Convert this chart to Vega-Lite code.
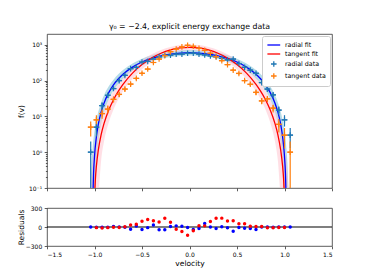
{
 "$schema": "https://vega.github.io/schema/vega-lite/v6.json",
 "padding": {"left": 16, "top": 22, "right": 5, "bottom": 3},
 "config": {
  "font": "DejaVu Sans",
  "view": {"stroke": "#333", "strokeWidth": 0.8},
  "axis": {"domain": false, "grid": false, "tickColor": "#333", "tickSize": 2.8, "tickWidth": 0.8, "labelFontSize": 6, "labelColor": "#000", "titleFontSize": 7.5, "titleFontWeight": "normal", "titleColor": "#000", "labelPadding": 2.5, "labelOverlap": false}
 },
 "spacing": 12,
 "resolve": {"scale": {"color": "independent"}},
 "datasets": {
  "fits": [
   {"s":"radial fit","v":-1.02,"f":0.03},{"s":"radial fit","v":-1.01,"f":0.25},{"s":"radial fit","v":-1.0,"f":0.76},{"s":"radial fit","v":-0.98,"f":2.7},{"s":"radial fit","v":-0.96,"f":5.95},{"s":"radial fit","v":-0.93,"f":13.3},{"s":"radial fit","v":-0.9,"f":23.4},{"s":"radial fit","v":-0.85,"f":46},{"s":"radial fit","v":-0.8,"f":76},{"s":"radial fit","v":-0.75,"f":111},{"s":"radial fit","v":-0.7,"f":151},{"s":"radial fit","v":-0.6,"f":238},{"s":"radial fit","v":-0.5,"f":330},{"s":"radial fit","v":-0.4,"f":417},{"s":"radial fit","v":-0.3,"f":493},{"s":"radial fit","v":-0.2,"f":551},{"s":"radial fit","v":-0.1,"f":587},{"s":"radial fit","v":0,"f":600},{"s":"radial fit","v":0.1,"f":587},{"s":"radial fit","v":0.2,"f":551},{"s":"radial fit","v":0.3,"f":493},{"s":"radial fit","v":0.4,"f":417},{"s":"radial fit","v":0.5,"f":330},{"s":"radial fit","v":0.6,"f":238},{"s":"radial fit","v":0.7,"f":151},{"s":"radial fit","v":0.75,"f":111},{"s":"radial fit","v":0.8,"f":76},{"s":"radial fit","v":0.85,"f":46},{"s":"radial fit","v":0.9,"f":23.4},{"s":"radial fit","v":0.93,"f":13.3},{"s":"radial fit","v":0.96,"f":5.95},{"s":"radial fit","v":0.98,"f":2.7},{"s":"radial fit","v":1.0,"f":0.76},{"s":"radial fit","v":1.01,"f":0.25},{"s":"radial fit","v":1.02,"f":0.03},
   {"s":"tangent fit","v":-1.01,"f":0.02},{"s":"tangent fit","v":-1.0,"f":0.055},{"s":"tangent fit","v":-0.99,"f":0.19},{"s":"tangent fit","v":-0.98,"f":0.41},{"s":"tangent fit","v":-0.96,"f":1.14},{"s":"tangent fit","v":-0.93,"f":3.1},{"s":"tangent fit","v":-0.9,"f":6.3},{"s":"tangent fit","v":-0.85,"f":15.1},{"s":"tangent fit","v":-0.8,"f":29.3},{"s":"tangent fit","v":-0.75,"f":50},{"s":"tangent fit","v":-0.7,"f":78.6},{"s":"tangent fit","v":-0.6,"f":162},{"s":"tangent fit","v":-0.5,"f":280},{"s":"tangent fit","v":-0.4,"f":425},{"s":"tangent fit","v":-0.3,"f":580},{"s":"tangent fit","v":-0.2,"f":718},{"s":"tangent fit","v":-0.1,"f":815},{"s":"tangent fit","v":0,"f":850},{"s":"tangent fit","v":0.1,"f":815},{"s":"tangent fit","v":0.2,"f":718},{"s":"tangent fit","v":0.3,"f":580},{"s":"tangent fit","v":0.4,"f":425},{"s":"tangent fit","v":0.5,"f":280},{"s":"tangent fit","v":0.6,"f":162},{"s":"tangent fit","v":0.7,"f":78.6},{"s":"tangent fit","v":0.75,"f":50},{"s":"tangent fit","v":0.8,"f":29.3},{"s":"tangent fit","v":0.85,"f":15.1},{"s":"tangent fit","v":0.9,"f":6.3},{"s":"tangent fit","v":0.93,"f":3.1},{"s":"tangent fit","v":0.96,"f":1.14},{"s":"tangent fit","v":0.98,"f":0.41},{"s":"tangent fit","v":0.99,"f":0.19},{"s":"tangent fit","v":1.0,"f":0.055},{"s":"tangent fit","v":1.01,"f":0.02}
  ],
  "bband": [
   {"v":-1.05,"lo":0.01,"hi":0.01},{"v":-1.04,"lo":0.01,"hi":0.117},{"v":-1.03,"lo":0.01,"hi":0.53},{"v":-1.02,"lo":0.01,"hi":1.29},{"v":-1.01,"lo":0.01,"hi":2.4},{"v":-1.0,"lo":0.01,"hi":3.87},{"v":-0.99,"lo":0.09,"hi":5.6},{"v":-0.98,"lo":0.41,"hi":7.9},{"v":-0.96,"lo":1.84,"hi":13.5},{"v":-0.93,"lo":6.1,"hi":24.6},{"v":-0.9,"lo":12.9,"hi":38.9},{"v":-0.85,"lo":29.7,"hi":69},{"v":-0.8,"lo":52.6,"hi":106},{"v":-0.75,"lo":80.8,"hi":150},{"v":-0.7,"lo":113,"hi":198},{"v":-0.6,"lo":187,"hi":302},{"v":-0.5,"lo":264,"hi":409},{"v":-0.4,"lo":339,"hi":510},{"v":-0.3,"lo":405,"hi":597},{"v":-0.2,"lo":455,"hi":664},{"v":-0.1,"lo":487,"hi":706},{"v":0,"lo":498,"hi":720},
   {"v":0.1,"lo":487,"hi":706},{"v":0.2,"lo":455,"hi":664},{"v":0.3,"lo":405,"hi":597},{"v":0.4,"lo":339,"hi":510},{"v":0.5,"lo":264,"hi":409},{"v":0.6,"lo":187,"hi":302},{"v":0.7,"lo":113,"hi":198},{"v":0.75,"lo":80.8,"hi":150},{"v":0.8,"lo":52.6,"hi":106},{"v":0.85,"lo":29.7,"hi":69},{"v":0.9,"lo":12.9,"hi":38.9},{"v":0.93,"lo":6.1,"hi":24.6},{"v":0.96,"lo":1.84,"hi":13.5},{"v":0.98,"lo":0.41,"hi":7.9},{"v":0.99,"lo":0.09,"hi":5.6},{"v":1.0,"lo":0.01,"hi":3.87},{"v":1.01,"lo":0.01,"hi":2.4},{"v":1.02,"lo":0.01,"hi":1.29},{"v":1.03,"lo":0.01,"hi":0.53},{"v":1.04,"lo":0.01,"hi":0.117},{"v":1.05,"lo":0.01,"hi":0.01}
  ],
  "rband": [
   {"v":-1.05,"lo":0.01,"hi":0.02},{"v":-1.04,"lo":0.01,"hi":0.12},{"v":-1.03,"lo":0.01,"hi":0.32},{"v":-1.02,"lo":0.01,"hi":0.6},{"v":-1.0,"lo":0.01,"hi":1.52},{"v":-0.98,"lo":0.01,"hi":2.87},{"v":-0.96,"lo":0.046,"hi":4.86},{"v":-0.93,"lo":0.6,"hi":9.0},{"v":-0.9,"lo":2.0,"hi":14.9},{"v":-0.85,"lo":6.8,"hi":29.4},{"v":-0.8,"lo":15.6,"hi":50.8},{"v":-0.75,"lo":29.7,"hi":80.4},{"v":-0.7,"lo":50.1,"hi":117},{"v":-0.6,"lo":112,"hi":224},{"v":-0.5,"lo":207,"hi":373},{"v":-0.4,"lo":333,"hi":542},{"v":-0.3,"lo":465,"hi":718},{"v":-0.2,"lo":587,"hi":871},{"v":-0.1,"lo":673,"hi":982},{"v":0,"lo":706,"hi":1020},
   {"v":0.1,"lo":673,"hi":982},{"v":0.2,"lo":587,"hi":871},{"v":0.3,"lo":465,"hi":718},{"v":0.4,"lo":333,"hi":542},{"v":0.5,"lo":207,"hi":373},{"v":0.6,"lo":112,"hi":224},{"v":0.7,"lo":50.1,"hi":117},{"v":0.75,"lo":29.7,"hi":80.4},{"v":0.8,"lo":15.6,"hi":50.8},{"v":0.85,"lo":6.8,"hi":29.4},{"v":0.9,"lo":2.0,"hi":14.9},{"v":0.93,"lo":0.6,"hi":9.0},{"v":0.96,"lo":0.046,"hi":4.86},{"v":0.98,"lo":0.01,"hi":2.87},{"v":1.0,"lo":0.01,"hi":1.52},{"v":1.02,"lo":0.01,"hi":0.6},{"v":1.03,"lo":0.01,"hi":0.32},{"v":1.04,"lo":0.01,"hi":0.12},{"v":1.05,"lo":0.01,"hi":0.02}
  ],
  "pts": [
   {"s":"radial data","v":-1.04,"y":1,"lo":0.01,"hi":2,"a":-1.07,"b":-1.01},
   {"s":"radial data","v":-0.98,"y":5,"lo":2.76,"hi":7.24,"a":-1.01,"b":-0.95},
   {"s":"radial data","v":-0.92,"y":20,"lo":15.5,"hi":24.5,"a":-0.95,"b":-0.89},
   {"s":"radial data","v":-0.86,"y":39,"lo":32.8,"hi":45.2,"a":-0.89,"b":-0.83},
   {"s":"radial data","v":-0.8,"y":60,"lo":52.3,"hi":67.7,"a":-0.83,"b":-0.77},
   {"s":"radial data","v":-0.74,"y":100,"lo":90,"hi":110,"a":-0.77,"b":-0.71},
   {"s":"radial data","v":-0.68,"y":140,"lo":128.2,"hi":151.8,"a":-0.71,"b":-0.65},
   {"s":"radial data","v":-0.62,"y":215,"lo":200.3,"hi":229.7,"a":-0.65,"b":-0.59},
   {"s":"radial data","v":-0.56,"y":235,"lo":219.7,"hi":250.3,"a":-0.59,"b":-0.53},
   {"s":"radial data","v":-0.5,"y":330,"lo":311.8,"hi":348.2,"a":-0.53,"b":-0.47},
   {"s":"radial data","v":-0.44,"y":345,"lo":326.4,"hi":363.6,"a":-0.47,"b":-0.41},
   {"s":"radial data","v":-0.38,"y":400,"lo":380,"hi":420,"a":-0.41,"b":-0.35},
   {"s":"radial data","v":-0.32,"y":460,"lo":438.6,"hi":481.4,"a":-0.35,"b":-0.29},
   {"s":"radial data","v":-0.26,"y":510,"lo":487.4,"hi":532.6,"a":-0.29,"b":-0.23},
   {"s":"radial data","v":-0.2,"y":515,"lo":492.3,"hi":537.7,"a":-0.23,"b":-0.17},
   {"s":"radial data","v":-0.14,"y":545,"lo":521.7,"hi":568.3,"a":-0.17,"b":-0.11},
   {"s":"radial data","v":-0.08,"y":550,"lo":526.5,"hi":573.5,"a":-0.11,"b":-0.05},
   {"s":"radial data","v":-0.02,"y":580,"lo":555.9,"hi":604.1,"a":-0.05,"b":0.01},
   {"s":"radial data","v":0.04,"y":585,"lo":560.8,"hi":609.2,"a":0.01,"b":0.07},
   {"s":"radial data","v":0.1,"y":550,"lo":526.5,"hi":573.5,"a":0.07,"b":0.13},
   {"s":"radial data","v":0.16,"y":520,"lo":497.2,"hi":542.8,"a":0.13,"b":0.19},
   {"s":"radial data","v":0.22,"y":490,"lo":467.9,"hi":512.1,"a":0.19,"b":0.25},
   {"s":"radial data","v":0.28,"y":465,"lo":443.4,"hi":486.6,"a":0.25,"b":0.31},
   {"s":"radial data","v":0.34,"y":420,"lo":399.5,"hi":440.5,"a":0.31,"b":0.37},
   {"s":"radial data","v":0.4,"y":380,"lo":360.5,"hi":399.5,"a":0.37,"b":0.43},
   {"s":"radial data","v":0.46,"y":400,"lo":380,"hi":420,"a":0.43,"b":0.49},
   {"s":"radial data","v":0.52,"y":300,"lo":282.7,"hi":317.3,"a":0.49,"b":0.55},
   {"s":"radial data","v":0.58,"y":235,"lo":219.7,"hi":250.3,"a":0.55,"b":0.61},
   {"s":"radial data","v":0.64,"y":195,"lo":181,"hi":209,"a":0.61,"b":0.67},
   {"s":"radial data","v":0.7,"y":160,"lo":147.4,"hi":172.6,"a":0.67,"b":0.73},
   {"s":"radial data","v":0.76,"y":88,"lo":78.6,"hi":97.4,"a":0.73,"b":0.79},
   {"s":"radial data","v":0.82,"y":58,"lo":50.4,"hi":65.6,"a":0.79,"b":0.85},
   {"s":"radial data","v":0.88,"y":40,"lo":33.7,"hi":46.3,"a":0.85,"b":0.91},
   {"s":"radial data","v":0.94,"y":15,"lo":11.1,"hi":18.9,"a":0.91,"b":0.97},
   {"s":"radial data","v":1.0,"y":8,"lo":5.2,"hi":10.8,"a":0.97,"b":1.03},
   {"s":"radial data","v":1.06,"y":3,"lo":1.27,"hi":4.73,"a":1.03,"b":1.09},
   {"s":"tangent data","v":-1.04,"y":5,"lo":2.76,"hi":7.24,"a":-1.07,"b":-1.01},
   {"s":"tangent data","v":-0.98,"y":8,"lo":5.17,"hi":10.83,"a":-1.01,"b":-0.95},
   {"s":"tangent data","v":-0.92,"y":12,"lo":8.54,"hi":15.46,"a":-0.95,"b":-0.89},
   {"s":"tangent data","v":-0.86,"y":16,"lo":12,"hi":20,"a":-0.89,"b":-0.83},
   {"s":"tangent data","v":-0.8,"y":30,"lo":24.5,"hi":35.5,"a":-0.83,"b":-0.77},
   {"s":"tangent data","v":-0.74,"y":41,"lo":34.6,"hi":47.4,"a":-0.77,"b":-0.71},
   {"s":"tangent data","v":-0.68,"y":58,"lo":50.4,"hi":65.6,"a":-0.71,"b":-0.65},
   {"s":"tangent data","v":-0.62,"y":80,"lo":71.1,"hi":88.9,"a":-0.65,"b":-0.59},
   {"s":"tangent data","v":-0.56,"y":115,"lo":104.3,"hi":125.7,"a":-0.59,"b":-0.53},
   {"s":"tangent data","v":-0.5,"y":160,"lo":147.4,"hi":172.6,"a":-0.53,"b":-0.47},
   {"s":"tangent data","v":-0.44,"y":210,"lo":195.5,"hi":224.5,"a":-0.47,"b":-0.41},
   {"s":"tangent data","v":-0.38,"y":320,"lo":302.1,"hi":337.9,"a":-0.41,"b":-0.35},
   {"s":"tangent data","v":-0.32,"y":400,"lo":380,"hi":420,"a":-0.35,"b":-0.29},
   {"s":"tangent data","v":-0.26,"y":500,"lo":477.6,"hi":522.4,"a":-0.29,"b":-0.23},
   {"s":"tangent data","v":-0.2,"y":640,"lo":614.7,"hi":665.3,"a":-0.23,"b":-0.17},
   {"s":"tangent data","v":-0.14,"y":760,"lo":732.4,"hi":787.6,"a":-0.17,"b":-0.11},
   {"s":"tangent data","v":-0.08,"y":870,"lo":840.5,"hi":899.5,"a":-0.11,"b":-0.05},
   {"s":"tangent data","v":-0.02,"y":970,"lo":938.9,"hi":1001.1,"a":-0.05,"b":0.01},
   {"s":"tangent data","v":0.04,"y":910,"lo":879.8,"hi":940.2,"a":0.01,"b":0.07},
   {"s":"tangent data","v":0.1,"y":800,"lo":771.7,"hi":828.3,"a":0.07,"b":0.13},
   {"s":"tangent data","v":0.16,"y":700,"lo":673.5,"hi":726.5,"a":0.13,"b":0.19},
   {"s":"tangent data","v":0.22,"y":580,"lo":555.9,"hi":604.1,"a":0.19,"b":0.25},
   {"s":"tangent data","v":0.28,"y":465,"lo":443.4,"hi":486.6,"a":0.25,"b":0.31},
   {"s":"tangent data","v":0.34,"y":360,"lo":341,"hi":379,"a":0.31,"b":0.37},
   {"s":"tangent data","v":0.4,"y":280,"lo":263.3,"hi":296.7,"a":0.37,"b":0.43},
   {"s":"tangent data","v":0.46,"y":195,"lo":181,"hi":209,"a":0.43,"b":0.49},
   {"s":"tangent data","v":0.52,"y":158,"lo":145.4,"hi":170.6,"a":0.49,"b":0.55},
   {"s":"tangent data","v":0.58,"y":100,"lo":90,"hi":110,"a":0.55,"b":0.61},
   {"s":"tangent data","v":0.64,"y":79,"lo":70.1,"hi":87.9,"a":0.61,"b":0.67},
   {"s":"tangent data","v":0.7,"y":47,"lo":40.1,"hi":53.9,"a":0.67,"b":0.73},
   {"s":"tangent data","v":0.76,"y":27,"lo":21.8,"hi":32.2,"a":0.73,"b":0.79},
   {"s":"tangent data","v":0.82,"y":31,"lo":25.4,"hi":36.6,"a":0.79,"b":0.85},
   {"s":"tangent data","v":0.88,"y":17,"lo":12.9,"hi":21.1,"a":0.85,"b":0.91},
   {"s":"tangent data","v":0.94,"y":6,"lo":3.55,"hi":8.45,"a":0.91,"b":0.97},
   {"s":"tangent data","v":1.0,"y":3,"lo":1.27,"hi":4.73,"a":0.97,"b":1.03},
   {"s":"tangent data","v":1.06,"y":1,"lo":0.01,"hi":2,"a":1.03,"b":1.09}
  ],
  "res": [
   {"s":"radial","v":-1.04,"r":0},{"s":"radial","v":-0.98,"r":-3},{"s":"radial","v":-0.92,"r":-3},{"s":"radial","v":-0.86,"r":-2},{"s":"radial","v":-0.8,"r":10},{"s":"radial","v":-0.74,"r":2},{"s":"radial","v":-0.68,"r":-5},{"s":"radial","v":-0.62,"r":-35},{"s":"radial","v":-0.56,"r":15},{"s":"radial","v":-0.5,"r":-40},{"s":"radial","v":-0.44,"r":-10},{"s":"radial","v":-0.38,"r":30},{"s":"radial","v":-0.32,"r":-45},{"s":"radial","v":-0.26,"r":-45},{"s":"radial","v":-0.2,"r":8},{"s":"radial","v":-0.14,"r":18},{"s":"radial","v":-0.08,"r":12},{"s":"radial","v":-0.02,"r":-8},{"s":"radial","v":0.04,"r":-40},{"s":"radial","v":0.1,"r":-25},{"s":"radial","v":0.16,"r":55},{"s":"radial","v":0.22,"r":0},{"s":"radial","v":0.28,"r":-25},{"s":"radial","v":0.34,"r":5},{"s":"radial","v":0.4,"r":-12},{"s":"radial","v":0.46,"r":-68},{"s":"radial","v":0.52,"r":-8},{"s":"radial","v":0.58,"r":-20},{"s":"radial","v":0.64,"r":-25},{"s":"radial","v":0.7,"r":-38},{"s":"radial","v":0.76,"r":0},{"s":"radial","v":0.82,"r":2},{"s":"radial","v":0.88,"r":-2},{"s":"radial","v":0.94,"r":0},{"s":"radial","v":1.0,"r":0},{"s":"radial","v":1.06,"r":0},
   {"s":"tangent","v":-0.98,"r":-10},{"s":"tangent","v":-0.92,"r":-15},{"s":"tangent","v":-0.86,"r":-10},{"s":"tangent","v":-0.8,"r":-5},{"s":"tangent","v":-0.74,"r":-8},{"s":"tangent","v":-0.68,"r":5},{"s":"tangent","v":-0.62,"r":32},{"s":"tangent","v":-0.56,"r":42},{"s":"tangent","v":-0.5,"r":90},{"s":"tangent","v":-0.44,"r":117},{"s":"tangent","v":-0.38,"r":98},{"s":"tangent","v":-0.32,"r":80},{"s":"tangent","v":-0.26,"r":138},{"s":"tangent","v":-0.2,"r":74},{"s":"tangent","v":-0.14,"r":-35},{"s":"tangent","v":-0.08,"r":-70},{"s":"tangent","v":-0.02,"r":-130},{"s":"tangent","v":0.04,"r":-60},{"s":"tangent","v":0.1,"r":20},{"s":"tangent","v":0.16,"r":18},{"s":"tangent","v":0.22,"r":88},{"s":"tangent","v":0.28,"r":138},{"s":"tangent","v":0.34,"r":140},{"s":"tangent","v":0.4,"r":96},{"s":"tangent","v":0.46,"r":98},{"s":"tangent","v":0.52,"r":50},{"s":"tangent","v":0.58,"r":52},{"s":"tangent","v":0.64,"r":12},{"s":"tangent","v":0.7,"r":8},{"s":"tangent","v":0.76,"r":8},{"s":"tangent","v":0.82,"r":-12},{"s":"tangent","v":0.88,"r":-12},{"s":"tangent","v":0.94,"r":-8},{"s":"tangent","v":1.0,"r":-8}
  ]
 },
 "vconcat": [
  {
   "width": 285,
   "height": 154,
   "title": {"text": "γ₀ = −2.4, explicit energy exchange data", "fontSize": 7.8, "fontWeight": "normal", "color": "#000", "offset": 3, "anchor": "middle", "frame": "group"},
   "resolve": {"axis": {"y": "independent"}},
   "layer": [
    {
     "data": {"name": "bband"},
     "mark": {"type": "area", "color": "#add8e6", "opacity": 0.9, "clip": true, "interpolate": "monotone"},
     "encoding": {
      "x": {"field": "v", "type": "quantitative", "scale": {"domain": [-1.5, 1.5], "nice": false}, "axis": {"values": [-1.5, -1, -0.5, 0, 0.5, 1, 1.5], "labels": false, "title": null}},
      "y": {"field": "hi", "type": "quantitative", "scale": {"type": "log", "domain": [0.1, 2000], "nice": false}, "axis": {"values": [0.1, 1, 10, 100, 1000], "labelExpr": "datum.value < 0.5 ? '10⁻¹' : datum.value < 5 ? '10⁰' : datum.value < 50 ? '10¹' : datum.value < 500 ? '10²' : '10³'", "title": "f(v)", "minExtent": 19, "maxExtent": 19, "titlePadding": 3}},
      "y2": {"field": "lo"}
     }
    },
    {
     "data": {"name": "rband"},
     "mark": {"type": "area", "color": "#ffc0cb", "opacity": 0.5, "clip": true, "interpolate": "monotone"},
     "encoding": {
      "x": {"field": "v", "type": "quantitative", "scale": {"domain": [-1.5, 1.5], "nice": false}, "axis": {"values": [-1.5, -1, -0.5, 0, 0.5, 1, 1.5], "labels": false, "title": null}},
      "y": {"field": "hi", "type": "quantitative", "scale": {"type": "log", "domain": [0.1, 2000], "nice": false}, "axis": null},
      "y2": {"field": "lo"}
     }
    },
    {
     "data": {"name": "fits"},
     "mark": {"type": "line", "strokeWidth": 1.3, "clip": true, "interpolate": "monotone"},
     "encoding": {
      "x": {"field": "v", "type": "quantitative", "scale": {"domain": [-1.5, 1.5], "nice": false}, "axis": {"values": [-1.5, -1, -0.5, 0, 0.5, 1, 1.5], "labels": false, "title": null}},
      "y": {"field": "f", "type": "quantitative", "scale": {"type": "log", "domain": [0.1, 2000], "nice": false}, "axis": {"values": [0.2,0.3,0.4,0.5,0.6,0.7,0.8,0.9,2,3,4,5,6,7,8,9,20,30,40,50,60,70,80,90,200,300,400,500,600,700,800,900], "labels": false, "title": null, "tickSize": 1.6, "orient": "left", "minExtent": 0, "maxExtent": 0}},
      "color": {"field": "s", "type": "nominal", "scale": {"domain": ["radial fit", "tangent fit", "radial data", "tangent data"], "range": ["#0000ff", "#ff0000", "#1f77b4", "#ff7f0e"]}, "legend": {"title": null, "orient": "top-right", "offset": 2, "padding": 4, "fillColor": "#ffffff", "strokeColor": "#cccccc", "cornerRadius": 2, "labelFontSize": 6.3, "labelColor": "#000", "symbolSize": 64, "symbolStrokeWidth": 1.3, "symbolType": "stroke", "rowPadding": 0, "labelOffset": 9, "encode": {"symbols": {"update": {"shape": {"signal": "indexof(['radial fit','tangent fit'], datum.value) >= 0 ? 'M-0.9,0L2.3,0' : 'M0,0L1.4,0M0.7,-0.7L0.7,0.7'"}}}}}}
     }
    },
    {
     "data": {"name": "pts"},
     "mark": {"type": "rule", "strokeWidth": 1.2, "clip": true},
     "encoding": {
      "x": {"field": "a", "type": "quantitative", "scale": {"domain": [-1.5, 1.5], "nice": false}, "axis": {"values": [-1.5, -1, -0.5, 0, 0.5, 1, 1.5], "labels": false, "title": null}},
      "x2": {"field": "b"},
      "y": {"field": "y", "type": "quantitative", "scale": {"type": "log", "domain": [0.1, 2000], "nice": false}, "axis": null},
      "color": {"field": "s", "type": "nominal", "legend": null}
     }
    },
    {
     "data": {"name": "pts"},
     "mark": {"type": "rule", "strokeWidth": 1.2, "clip": true},
     "encoding": {
      "x": {"field": "v", "type": "quantitative", "scale": {"domain": [-1.5, 1.5], "nice": false}, "axis": {"values": [-1.5, -1, -0.5, 0, 0.5, 1, 1.5], "labels": false, "title": null}},
      "y": {"field": "lo", "type": "quantitative", "scale": {"type": "log", "domain": [0.1, 2000], "nice": false}, "axis": null},
      "y2": {"field": "hi"},
      "color": {"field": "s", "type": "nominal", "legend": null}
     }
    },
    {
     "data": {"name": "pts"},
     "mark": {"type": "point", "filled": false, "size": 200, "strokeWidth": 1.2, "opacity": 1, "clip": true, "shape": "M-0.4,0L0.4,0M0,-0.4L0,0.4"},
     "encoding": {
      "x": {"field": "v", "type": "quantitative", "scale": {"domain": [-1.5, 1.5], "nice": false}, "axis": {"values": [-1.5, -1, -0.5, 0, 0.5, 1, 1.5], "labels": false, "title": null}},
      "y": {"field": "y", "type": "quantitative", "scale": {"type": "log", "domain": [0.1, 2000], "nice": false}, "axis": null},
      "color": {"field": "s", "type": "nominal", "legend": null}
     }
    }
   ]
  },
  {
   "width": 285,
   "height": 38,
   "layer": [
    {
     "data": {"values": [{"z": 0}]},
     "mark": {"type": "rule", "color": "#000", "strokeWidth": 1.1},
     "encoding": {"y": {"field": "z", "type": "quantitative", "scale": {"domain": [-300, 300], "nice": false}, "axis": {"values": [-300, 0, 300], "title": "Residuals", "minExtent": 19, "maxExtent": 19, "titlePadding": 3}}}
    },
    {
     "data": {"name": "res"},
     "mark": {"type": "circle", "size": 12, "opacity": 1},
     "encoding": {
      "x": {"field": "v", "type": "quantitative", "scale": {"domain": [-1.5, 1.5], "nice": false}, "axis": {"values": [-1.5, -1, -0.5, 0, 0.5, 1, 1.5], "format": ".1f", "title": "velocity", "titlePadding": 2}},
      "y": {"field": "r", "type": "quantitative", "scale": {"domain": [-300, 300], "nice": false}, "axis": {"values": [-300, 0, 300], "title": "Residuals", "minExtent": 19, "maxExtent": 19, "titlePadding": 3}},
      "color": {"field": "s", "type": "nominal", "scale": {"domain": ["radial", "tangent"], "range": ["#0000ff", "#ff0000"]}, "legend": null}
     }
    }
   ]
  }
 ]
}
